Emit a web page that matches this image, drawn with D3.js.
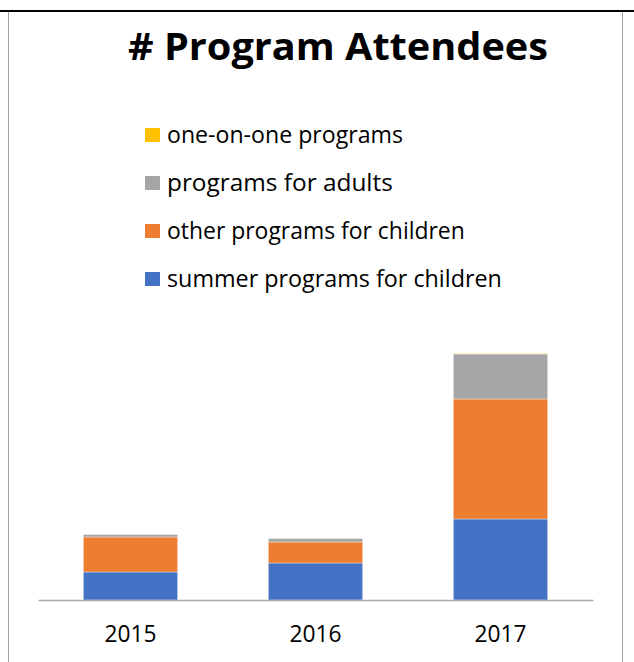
<!DOCTYPE html>
<html lang="en">
<head>
    <meta charset="UTF-8">
    <title># Program Attendees</title>
    <script src="https://d3js.org/d3.v7.min.js"></script>
    <style>
        body {
            margin: 0;
            padding: 0;
            background: #fff;
            overflow: hidden;
        }
        svg text {
            font-family: 'Open Sans', 'Noto Sans', sans-serif;
            fill: #000;
        }
    </style>
</head>
<body>
    <div id="chart"></div>
    <script>
        // Data
        const years = ["2015", "2016", "2017"];
        const seriesNames = ["summer programs for children", "other programs for children", "programs for adults", "one-on-one programs"];
        const seriesColors = ["#4472C4", "#ED7D31", "#A5A5A5", "#FFC000"];
        const summerChildren = [56, 74, 162];
        const otherChildren = [70, 42, 240];
        const adults = [5, 7, 90];
        const oneOnOne = [0, 0, 1];

        const width = 634, height = 662;
        const svg = d3.select("#chart").append("svg")
            .attr("width", width)
            .attr("height", height);

        // frame lines
        svg.append("line").attr("x1", 0).attr("x2", width).attr("y1", 11).attr("y2", 11)
            .attr("stroke", "#000").attr("stroke-width", 2);
        svg.append("line").attr("x1", 8.5).attr("x2", 8.5).attr("y1", 12).attr("y2", height)
            .attr("stroke", "#a0a0a0").attr("stroke-width", 1);
        svg.append("line").attr("x1", 622.5).attr("x2", 622.5).attr("y1", 12).attr("y2", height)
            .attr("stroke", "#a0a0a0").attr("stroke-width", 1);

        // fit text to a target width by tweaking font size
        function fitText(sel, targetWidth) {
            const w = sel.node().getComputedTextLength();
            const fs = parseFloat(sel.attr("font-size"));
            sel.attr("font-size", fs * targetWidth / w);
        }

        // title, squeezed a bit to look like the narrower original face
        svg.append("text")
            .attr("x", 128).attr("y", 60)
            .attr("font-size", 37)
            .attr("font-weight", "bold")
            .attr("textLength", 420)
            .attr("lengthAdjust", "spacingAndGlyphs")
            .text("# Program Attendees");

        // legend (top-down order is reversed series order)
        const legendRows = seriesNames.map((n, i) => ({ name: n, color: seriesColors[i] })).reverse();
        const legend = svg.append("g");
        const legendTargets = [236, 226, 298, 335];
        legendRows.forEach((d, i) => {
            const cy = 135 + i * 48;
            legend.append("rect")
                .attr("x", 145).attr("y", cy - 7)
                .attr("width", 15).attr("height", 14)
                .attr("fill", d.color);
            const t = legend.append("text")
                .attr("x", 167).attr("y", cy + 7.5)
                .attr("font-size", 20)
                .text(d.name);
            fitText(t, legendTargets[i]);
        });

        // stacked bars
        const rows = years.map((y, i) => ({
            year: y,
            s0: summerChildren[i],
            s1: otherChildren[i],
            s2: adults[i],
            s3: oneOnOne[i]
        }));
        const keys = ["s0", "s1", "s2", "s3"];
        const stack = d3.stack().keys(keys)(rows);

        const x = d3.scaleBand()
            .domain(years)
            .range([38, 593])
            .paddingInner(0.49)
            .paddingOuter(0.245);

        const y = d3.scaleLinear()
            .domain([0, 600])
            .range([600, 300]);

        svg.append("g")
            .selectAll("g")
            .data(stack)
            .join("g")
            .attr("fill", (d, i) => seriesColors[i])
            .selectAll("rect")
            .data(d => d)
            .join("rect")
            .attr("x", d => x(d.data.year))
            .attr("width", x.bandwidth())
            .attr("y", d => y(d[1]))
            .attr("height", d => y(d[0]) - y(d[1]))
            .attr("stroke", "#fff")
            .attr("stroke-opacity", 0.5)
            .attr("stroke-width", 0.75);

        // category axis
        const axis = svg.append("g")
            .attr("transform", "translate(0,600)")
            .call(d3.axisBottom(x).tickSize(0).tickPadding(0));
        axis.select(".domain").attr("stroke", "#ababab").attr("stroke-width", 1.5);
        axis.selectAll(".tick text")
            .attr("dy", 0)
            .attr("y", 42)
            .attr("font-size", 21)
            .attr("font-family", "'Open Sans', 'Noto Sans', sans-serif")
            .attr("fill", "#000");
        axis.selectAll(".tick text").each(function () { fitText(d3.select(this), 52); });
    </script>
</body>
</html>
